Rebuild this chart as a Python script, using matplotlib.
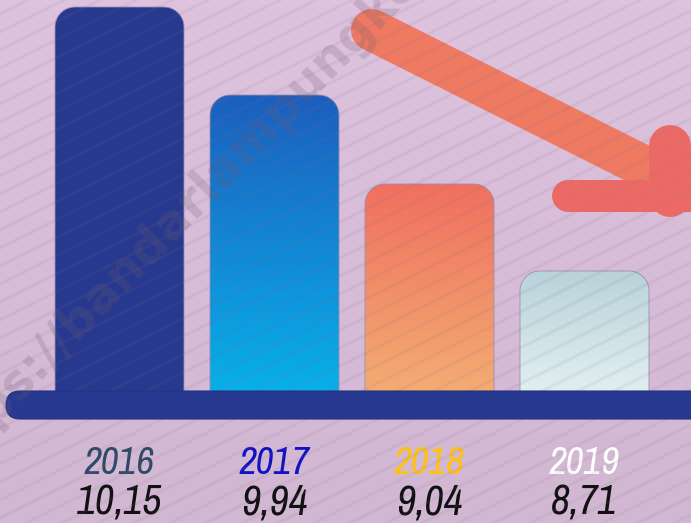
import numpy as np
import matplotlib
matplotlib.use("Agg")
import matplotlib.pyplot as plt
from matplotlib.path import Path
from matplotlib.patches import PathPatch, FancyBboxPatch
from matplotlib import font_manager
from matplotlib.font_manager import FontProperties
from matplotlib.colors import LinearSegmentedColormap

# ---- data ----
years = ["2016", "2017", "2018", "2019"]
values = [10.15, 9.94, 9.04, 8.71]
value_labels = ["10,15", "9,94", "9,04", "8,71"]
# displayed bar heights (infographic, not proportional), in px-like units
bar_heights = [383, 295, 206, 119]

year_colors = ["#2e4a66", "#1212c4", "#ffc20e", "#ffffff"]
bar_grad = [("#27398e", "#27398e"), ("#1c5fbe", "#08b0ea"),
            ("#f0705f", "#f3ad72"), ("#b9d3da", "#e2eff1")]

W, H = 691, 523
fig = plt.figure(figsize=(W / 100, H / 100), dpi=100)

# pick a condensed oblique font if available
fpath = None
for f in font_manager.fontManager.ttflist:
    fn = f.fname.lower()
    if "narrow" in fn and "italic" in fn and "bold" not in fn:
        fpath = f.fname; break
if fpath is None:
    for f in font_manager.fontManager.ttflist:
        fn = f.fname.lower()
        if "dejavusanscondensed-oblique" in fn:
            fpath = f.fname; break
if fpath:
    fp_year = FontProperties(fname=fpath, size=28)
    fp_val = FontProperties(fname=fpath, size=30)
else:
    fp_year = FontProperties(family="DejaVu Sans", style="italic", size=22)
    fp_val = FontProperties(family="DejaVu Sans", style="italic", size=26)

# background / decoration axes in pixel coordinates
bg = fig.add_axes([0, 0, 1, 1])
bg.set_xlim(0, W); bg.set_ylim(H, 0); bg.axis("off")
bgcm = LinearSegmentedColormap.from_list("bg", ["#dec3df", "#d2b7d3"])
bg.imshow(np.linspace(0, 1, 100)[:, None], cmap=bgcm, extent=[0, W, H, 0],
          aspect="auto", zorder=0)

# data axes: x in category units, y in px units above baseline
ax = fig.add_axes([0, 0, 1, 1])
ax.patch.set_alpha(0)
x0, dx = 119.5, 155.0
ax.set_xlim(-x0 / dx, (W - x0) / dx)
base_y = 390
ax.set_ylim(-(H - base_y), base_y)
ax.axis("off")

bw = 129 / dx
r_x, r_y = 20 / dx, 20
for i, (h, (ctop, cbot)) in enumerate(zip(bar_heights, bar_grad)):
    l, rgt = i - bw / 2, i + bw / 2
    t = np.linspace(0, np.pi / 2, 20)
    pts = [(l, -5)]
    pts += [(l + r_x - r_x * np.cos(a), h - r_y + r_y * np.sin(a)) for a in t]
    pts += [(rgt - r_x + r_x * np.sin(a), h - r_y + r_y * np.cos(a)) for a in t]
    pts += [(rgt, -5), (l, -5)]
    path = Path(pts)
    patch = PathPatch(path, facecolor="none", edgecolor="#9b8fb0", lw=0.6, zorder=3)
    ax.add_patch(patch)
    cm = LinearSegmentedColormap.from_list(f"b{i}", [cbot, ctop])
    im = ax.imshow(np.linspace(0, 1, 100)[:, None], cmap=cm, origin="lower",
                   extent=[l, rgt, -5, h], aspect="auto", zorder=2)
    im.set_clip_path(patch)
    ax.text(i, base_y - 463, years[i], ha="center", va="center",
            fontproperties=fp_year, color=year_colors[i])
    ax.text(i, base_y - 502, value_labels[i], ha="center", va="center",
            fontproperties=fp_val, color="#111111")

# top overlay in pixel coordinates
ov = fig.add_axes([0, 0, 1, 1])
ov.patch.set_alpha(0)
ov.set_xlim(0, W); ov.set_ylim(H, 0); ov.axis("off")

# base bar
ov.add_patch(FancyBboxPatch((6, 391), 705, 28, boxstyle="round,pad=0,rounding_size=14",
                            facecolor="#273990", edgecolor="#22337f", lw=0.8, zorder=6))

# arrow
pt = 72 / 100
ov.plot([372, 655], [30, 172], color="#ef7a62", lw=42 * pt, solid_capstyle="round", zorder=4)
ov.plot([568, 690], [196, 196], color="#ec6a66", lw=32 * pt, solid_capstyle="round", zorder=4)
ov.plot([670, 670], [146, 196], color="#ec6a66", lw=42 * pt, solid_capstyle="round", zorder=4)

# stripes
slope = 0.5
for c in np.arange(-400, 900, 18):
    xs = np.array([0, W])
    ov.plot(xs, c - slope * xs, color="#8a6a8a", lw=2.2, alpha=0.10, zorder=5)

# watermark
ov.text(-62, 484, "https://bandarlampungkota.go.id", rotation=46, rotation_mode="anchor",
        fontsize=35, fontweight="bold", color="#6e5a72", alpha=0.22, ha="left", va="baseline",
        family="DejaVu Sans", zorder=7, clip_on=True)

fig.savefig("out.png", dpi=100)
